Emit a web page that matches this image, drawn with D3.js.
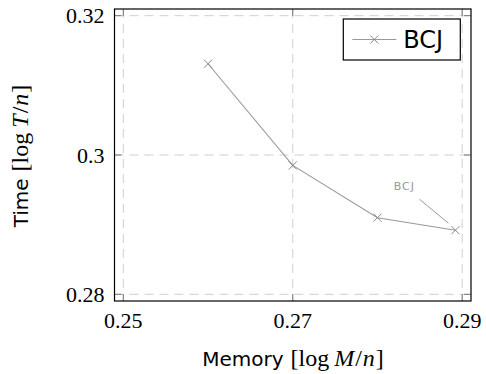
<!DOCTYPE html>
<html>
<head>
<meta charset="utf-8">
<script src="https://cdn.jsdelivr.net/npm/d3@7"></script>
<style>
  body { margin: 0; background: #fff; }
  svg { display: block; }
</style>
</head>
<body>
<svg id="chart" width="486" height="374"></svg>
<script>
// data
const seriesName = "BCJ";
const memory = [0.26, 0.27, 0.28, 0.2892];
const time = [0.3131, 0.2985, 0.2910, 0.2892];
const xTicks = [0.25, 0.27, 0.29];
const yTicks = [0.28, 0.3, 0.32];
const xTickLabels = ["0.25", "0.27", "0.29"];
const yTickLabels = ["0.28", "0.3", "0.32"];

const margin = { top: 9, right: 15, bottom: 73, left: 114.5 };
const svg = d3.select("#chart");
const W = 486, H = 374;
const width = W - margin.left - margin.right;
const height = H - margin.top - margin.bottom;

const x = d3.scaleLinear().domain([0.24896, 0.29104]).range([0, width]);
const y = d3.scaleLinear().domain([0.27904, 0.32096]).range([height, 0]);

const g = svg.append("g")
  .attr("transform", "translate(" + margin.left + "," + margin.top + ")");

// grid
g.append("g").selectAll("line").data(xTicks).enter().append("line")
  .attr("x1", d => x(d)).attr("x2", d => x(d))
  .attr("y1", 0).attr("y2", height)
  .attr("stroke", "#cfcfcf").attr("stroke-dasharray", "9,6");
g.append("g").selectAll("line").data(yTicks).enter().append("line")
  .attr("y1", d => y(d)).attr("y2", d => y(d))
  .attr("x1", 0).attr("x2", width)
  .attr("stroke", "#cfcfcf").attr("stroke-dasharray", "9,6");

// inner tick marks on all four sides
const tickLen = 7;
const tk = g.append("g").attr("stroke", "#777").attr("stroke-width", 1);
xTicks.forEach(d => {
  tk.append("line").attr("x1", x(d)).attr("x2", x(d)).attr("y1", height).attr("y2", height - tickLen);
  tk.append("line").attr("x1", x(d)).attr("x2", x(d)).attr("y1", 0).attr("y2", tickLen);
});
yTicks.forEach(d => {
  tk.append("line").attr("y1", y(d)).attr("y2", y(d)).attr("x1", 0).attr("x2", tickLen);
  tk.append("line").attr("y1", y(d)).attr("y2", y(d)).attr("x1", width).attr("x2", width - tickLen);
});

// frame
g.append("rect")
  .attr("width", width).attr("height", height)
  .attr("fill", "none").attr("stroke", "#000").attr("stroke-width", 1.2);

// tick labels
const serif = "Liberation Serif";
const sans = "DejaVu Sans";
g.append("g").selectAll("text").data(xTicks).enter().append("text")
  .attr("x", d => x(d)).attr("y", height + 27)
  .attr("text-anchor", "middle")
  .attr("font-family", serif).attr("font-size", 22)
  .text((d, i) => xTickLabels[i]);
g.append("g").selectAll("text").data(yTicks).enter().append("text")
  .attr("x", -10).attr("y", d => y(d) + 7.5)
  .attr("text-anchor", "end")
  .attr("font-family", serif).attr("font-size", 22)
  .text((d, i) => yTickLabels[i]);

// series line
const pts = memory.map((m, i) => [m, time[i]]);
const line = d3.line().x(d => x(d[0])).y(d => y(d[1]));
g.append("path").datum(pts)
  .attr("d", line).attr("fill", "none")
  .attr("stroke", "#999").attr("stroke-width", 1.1);

// x markers
g.append("g").selectAll("path").data(pts).enter().append("path")
  .attr("transform", d => "translate(" + x(d[0]) + "," + y(d[1]) + ")")
  .attr("d", d3.symbol().type(d3.symbolX).size(45))
  .attr("fill", "none").attr("stroke", "#888").attr("stroke-width", 1);

// annotation at the last point
const last = pts[pts.length - 1];
const lx = x(last[0]), ly = y(last[1]);
g.append("line")
  .attr("x1", lx - 7).attr("y1", ly - 7)
  .attr("x2", lx - 36).attr("y2", ly - 31)
  .attr("stroke", "#999").attr("stroke-width", 1);
g.append("text")
  .attr("x", lx - 51).attr("y", ly - 40)
  .attr("text-anchor", "middle")
  .attr("fill", "#999")
  .attr("font-family", sans).attr("font-size", 11)
  .attr("letter-spacing", 1)
  .text(seriesName);

// legend
const leg = g.append("g").attr("transform", "translate(" + (343.3 - margin.left) + "," + (19 - margin.top) + ")");
leg.append("rect").attr("width", 117).attr("height", 41)
  .attr("fill", "#fff").attr("stroke", "#000").attr("stroke-width", 1.2);
leg.append("line").attr("x1", 9).attr("x2", 53).attr("y1", 20.5).attr("y2", 20.5)
  .attr("stroke", "#999").attr("stroke-width", 1.1);
leg.append("path").attr("transform", "translate(31,20.5)")
  .attr("d", d3.symbol().type(d3.symbolX).size(45))
  .attr("fill", "none").attr("stroke", "#888");
leg.append("text").attr("x", 60).attr("y", 29)
  .attr("font-family", sans).attr("font-size", 24)
  .text(seriesName);

// axis titles
function title(sel, word, v) {
  sel.append("tspan").attr("font-family", sans).attr("font-size", 20).text(word);
  sel.append("tspan").attr("font-family", serif).attr("dx", 7).text("[log");
  sel.append("tspan").attr("font-family", serif).attr("font-style", "italic").attr("dx", 5).text(v);
  sel.append("tspan").attr("font-family", serif).attr("dx", 1).text("/");
  sel.append("tspan").attr("font-family", serif).attr("font-style", "italic").attr("dx", 1).text("n");
  sel.append("tspan").attr("font-family", serif).attr("dx", 1).text("]");
}
title(svg.append("text")
  .attr("x", 293).attr("y", 366)
  .attr("text-anchor", "middle")
  .attr("font-size", 24), "Memory", "M");

title(svg.append("text")
  .attr("transform", "translate(28,156) rotate(-90)")
  .attr("text-anchor", "middle")
  .attr("font-size", 24), "Time", "T");
</script>
</body>
</html>
